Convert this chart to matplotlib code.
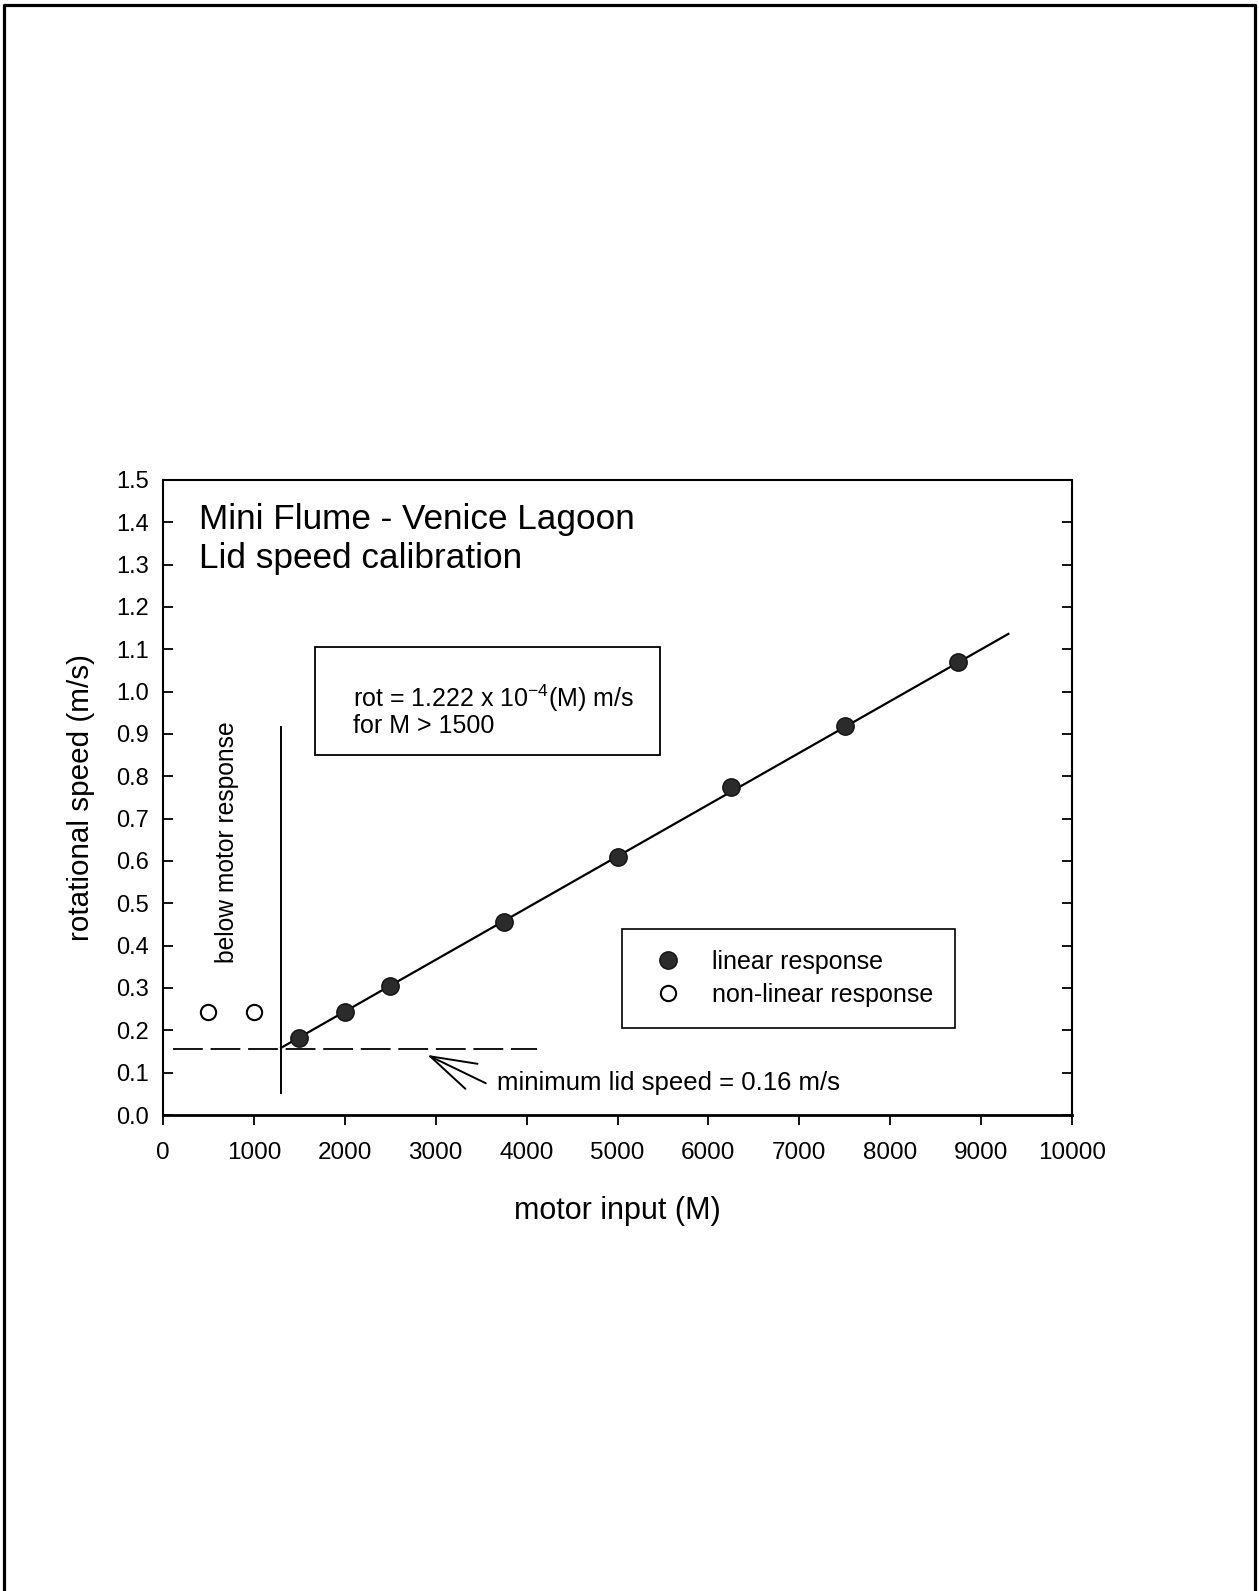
import matplotlib
matplotlib.use("Agg")
import matplotlib.pyplot as plt
from matplotlib.patches import Rectangle

plt.rcParams['font.family'] = ['Liberation Sans', 'DejaVu Sans']
plt.rcParams['mathtext.fontset'] = 'custom'
plt.rcParams['mathtext.rm'] = 'Liberation Sans'
plt.rcParams['mathtext.it'] = 'Liberation Sans:italic'

# ==== Data ====
motor_lin = [1500, 2000, 2500, 3750, 5000, 6250, 7500, 8750]
speed_lin = [0.182, 0.243, 0.304, 0.457, 0.609, 0.774, 0.918, 1.069]
motor_nonlin = [500, 1000]
speed_nonlin = [0.243, 0.243]

slope = 1.222e-4          # rot = 1.222 x 10^-4 (M)
fit_x = [1300, 9300]
fit_y = [slope * m for m in fit_x]

min_speed = 0.155         # dashed line
min_x = [107, 4119]
cutoff_m = 1303           # vertical line
cutoff_y = [0.053, 0.916]

xticks = list(range(0, 10001, 1000))
yticks = [i / 10 for i in range(16)]

# ==== Figure ====
W, H = 1259, 1591
fig = plt.figure(figsize=(W / 100, H / 100), dpi=100)
ax = fig.add_axes([163 / W, 1 - 1115 / H, (1072 - 163) / W, (1115 - 480) / H])

# page frame (no bottom edge)
fig.add_artist(plt.Line2D([4 / W, 4 / W, 1255 / W, 1255 / W],
                          [0, 1 - 5 / H, 1 - 5 / H, 0],
                          transform=fig.transFigure, color='black', lw=2.3))

dark = '#2b2b2b'
ax.plot(fit_x, fit_y, color='black', lw=1.6, zorder=2)
ax.plot(motor_lin, speed_lin, 'o', ms=12.5, mfc=dark, mec='#111111', mew=1,
        label='linear response', zorder=3)
ax.plot(motor_nonlin, speed_nonlin, 'o', ms=11, mfc='white', mec='black', mew=1.5,
        label='non-linear response', zorder=3)

ax.plot(min_x, [min_speed, min_speed], color='black', lw=1.3, dashes=(16.5, 4.3))
ax.plot([cutoff_m, cutoff_m], cutoff_y, color='black', lw=1.4)

ax.set_xlim(0, 10000)
ax.set_ylim(0, 1.5)
ax.set_xticks(xticks)
ax.set_yticks(yticks)
ax.set_yticklabels([f"{v:.1f}" for v in yticks])
ax.tick_params(axis='x', direction='out', length=7, width=1.3, labelsize=17.5, pad=12.5)
ax.tick_params(axis='y', direction='in', length=7, width=1.3, labelsize=17, pad=10,
               left=True, right=True)
for s in ax.spines.values():
    s.set_linewidth(1.5)
ax.spines['bottom'].set_linewidth(2)

ax.set_xlabel("motor input (M)", fontsize=22)
ax.set_ylabel("rotational speed (m/s)", fontsize=21.3)
ax.xaxis.set_label_coords(0.5, -0.128)
ax.yaxis.set_label_coords(-0.075, 0.5)

# ==== Texts ====
ax.text(0.040, 0.923, "Mini Flume - Venice Lagoon", transform=ax.transAxes,
        fontsize=25.3, va='baseline', ha='left')
ax.text(0.040, 0.861, "Lid speed calibration", transform=ax.transAxes,
        fontsize=25.3, va='baseline', ha='left')

ax.add_patch(Rectangle((1676, 0.851), 5472 - 1676, 1.105 - 0.851,
                       fill=False, edgecolor='black', lw=1.3, zorder=4))
ax.text(2094, 0.9646, r"rot = 1.222 x 10$^{\mathrm{-4}}$(M) m/s", fontsize=18,
        va='baseline', ha='left')
ax.text(2094, 0.9017, "for M > 1500", fontsize=18, va='baseline', ha='left')

ax.text(700, 0.645, "below motor response", rotation=90, fontsize=17.7,
        ha='center', va='center')

ax.annotate('', xy=(2906, 0.142), xytext=(3551, 0.075),
            arrowprops=dict(arrowstyle='->, head_length=1.65, head_width=0.5',
                            color='black', lw=1.4, mutation_scale=20,
                            shrinkA=0, shrinkB=0))
ax.text(3676, 0.058, "minimum lid speed = 0.16 m/s", fontsize=18.5,
        va='baseline', ha='left')

leg = ax.legend(loc='upper left', bbox_to_anchor=(0.505, 0.293), borderaxespad=0,
                fontsize=18, frameon=True, fancybox=False, edgecolor='black',
                framealpha=1, borderpad=0.85, labelspacing=0.36,
                handletextpad=0.76, handlelength=2.0)
leg.get_frame().set_linewidth(1.2)

fig.savefig("out.png", dpi=100)
